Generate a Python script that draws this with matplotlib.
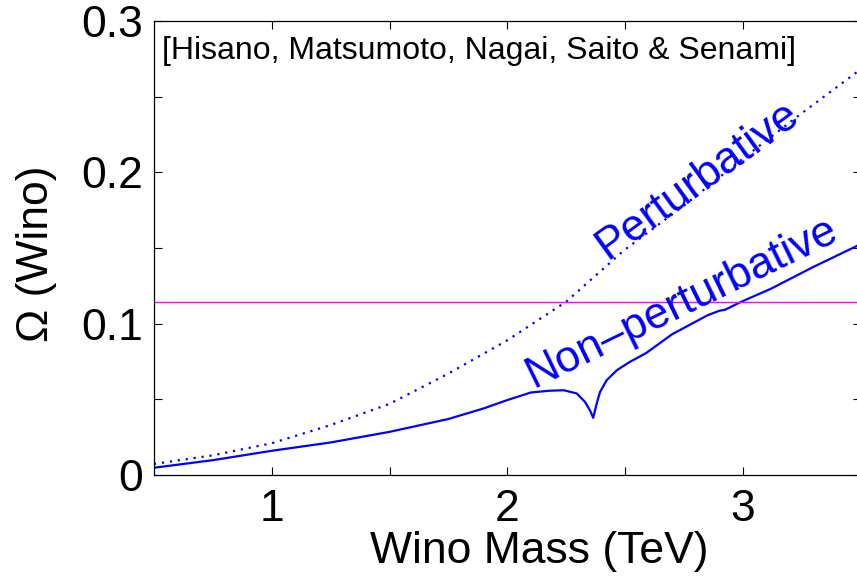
import matplotlib
matplotlib.use('Agg')
import matplotlib.pyplot as plt

plt.rcParams['font.family'] = ['Liberation Sans', 'DejaVu Sans']

# Wino relic abundance vs mass (TeV)
mass_pert = [0.5, 0.75, 1.0, 1.25, 1.5, 1.75, 2.0, 2.25, 2.5, 2.75, 3.0, 3.25, 3.5]
omega_pert = [0.0073, 0.013, 0.021, 0.033, 0.047, 0.067, 0.089, 0.1145, 0.149, 0.178,
              0.209, 0.239, 0.268]

mass_np = [0.5, 0.75, 1.0, 1.25, 1.5, 1.75, 1.9, 2.0, 2.1, 2.18, 2.24, 2.295, 2.33,
           2.351, 2.365, 2.38, 2.394, 2.422, 2.465, 2.52, 2.59, 2.7, 2.85, 2.9, 2.925,
           2.99, 3.12, 3.3, 3.5]
omega_np = [0.0048, 0.0098, 0.0160, 0.0215, 0.0285, 0.0370, 0.0440, 0.0495, 0.0545,
            0.0557, 0.0560, 0.0539, 0.0483, 0.0428, 0.0378, 0.0473, 0.0549, 0.0626,
            0.0692, 0.0747, 0.0806, 0.0930, 0.1055, 0.1085, 0.1092, 0.1142, 0.1231,
            0.1375, 0.1525]

omega_obs = 0.114

fig = plt.figure(figsize=(8.57, 5.76), dpi=100)
ax = fig.add_axes([154 / 857, 101 / 576, 706.5 / 857, 454 / 576])

ax.plot(mass_pert, omega_pert, color='blue', lw=1.6, linestyle=(0, (1, 2.6)))
ax.plot(mass_np, omega_np, color='blue', lw=1.6)
ax.axhline(omega_obs, color='magenta', lw=1.0)

ax.set_xlim(0.5, 3.5)
ax.set_ylim(0, 0.3)

ax.set_xticks([1, 1.5, 2, 2.5, 3])
ax.set_xticklabels(['1', '', '2', '', '3'])
ax.set_yticks([0, 0.05, 0.1, 0.15, 0.2, 0.25, 0.3])
ax.set_yticklabels(['0', '', '0.1', '', '0.2', '', '0.3'])
ax.tick_params(direction='in', length=6, width=0.8, labelsize=32,
               top=True, right=True)
ax.tick_params(axis='x', pad=10)
ax.tick_params(axis='y', pad=8)
for s in ax.spines.values():
    s.set_linewidth(0.9)

ax.set_xlabel('Wino Mass (TeV)', fontsize=32, va='center')
ax.set_ylabel('Ω (Wino)', fontsize=32, va='center')
ax.xaxis.set_label_coords(0.546, -0.168)
ax.yaxis.set_label_coords(-0.166, 0.487)

ax.text(0.535, 0.280, '[Hisano, Matsumoto, Nagai, Saito & Senami]', fontsize=23,
        ha='left', va='center')
ax.text(2.81, 0.195, 'Perturbative', color='blue', fontsize=32, rotation=36,
        ha='center', va='center', rotation_mode='anchor')
ax.text(2.74, 0.1135, 'Non–perturbative', color='blue', fontsize=32, rotation=26,
        ha='center', va='center', rotation_mode='anchor')

plt.savefig('out.png', dpi=100)
